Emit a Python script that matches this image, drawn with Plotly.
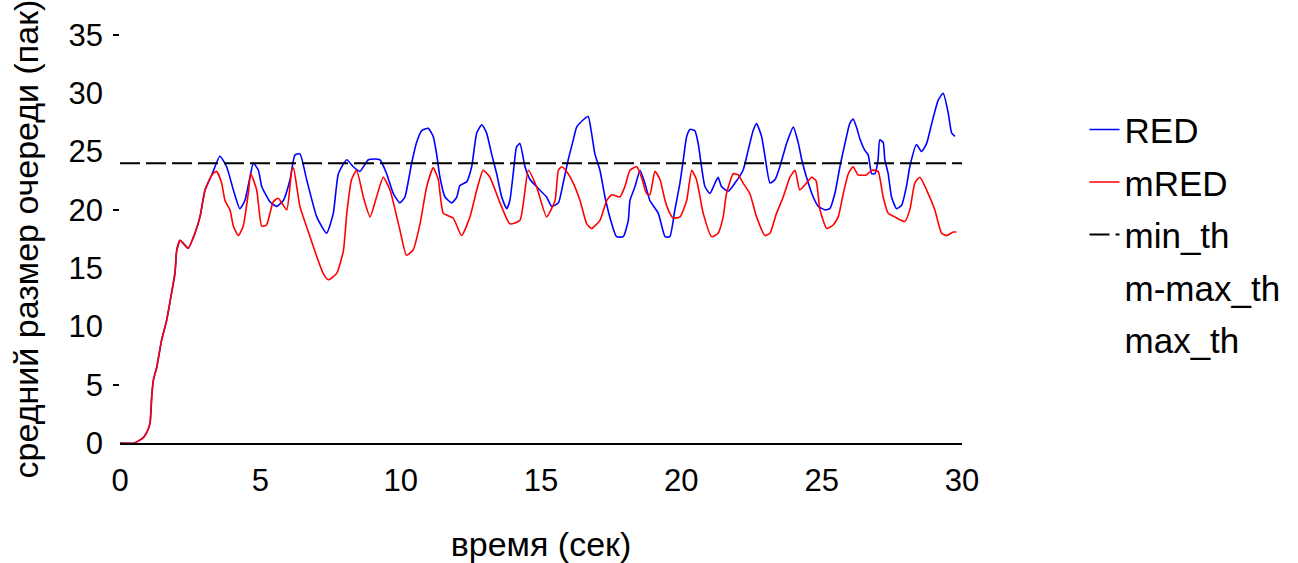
import plotly.graph_objects as go

# mRED (red curve)
t_mred = [0.0, 0.5, 0.8, 0.95, 1.07, 1.13, 1.19, 1.31, 1.48, 1.66, 1.84, 1.96, 2.02, 2.14, 2.3, 2.43,
          2.67, 2.85, 3.03, 3.27, 3.44, 3.62, 3.74, 3.92, 4.04, 4.22, 4.39, 4.57, 4.66, 4.87, 5.05,
          5.22, 5.46, 5.64, 5.94, 6.12, 6.18, 6.41, 6.77, 7.01, 7.24, 7.42, 7.72, 7.96, 8.08, 8.25,
          8.43, 8.67, 8.91, 9.14, 9.38, 9.62, 9.97, 10.21, 10.45, 10.69, 10.93, 11.16, 11.34, 11.52,
          11.87, 12.17, 12.47, 12.71, 12.94, 13.18, 13.54, 13.89, 14.25, 14.55, 14.84, 15.2, 15.5,
          15.62, 15.74, 15.91, 16.15, 16.39, 16.63, 16.8, 17.1, 17.34, 17.52, 17.81, 17.99, 18.17,
          18.41, 18.58, 18.76, 18.88, 19.06, 19.24, 19.42, 19.59, 19.71, 19.95, 20.19, 20.37, 20.54,
          20.78, 21.08, 21.31, 21.49, 21.61, 21.85, 22.03, 22.2, 22.44, 22.68, 22.98, 23.16, 23.39,
          23.63, 23.87, 24.05, 24.22, 24.46, 24.64, 24.8, 24.94, 25.18, 25.41, 25.59, 25.77, 25.95,
          26.12, 26.3, 26.6, 26.78, 27.01, 27.19, 27.37, 27.6, 27.96, 28.14, 28.32, 28.5, 28.74,
          29.03, 29.27, 29.45, 29.69, 29.8]
v_mred = [0.0, 0.0, 0.4, 0.9, 1.7, 4.0, 5.4, 6.5, 8.8, 10.5, 12.9, 14.6, 16.5, 17.4, 17.0, 16.7,
          18.0, 19.4, 21.7, 23.0, 23.3, 22.3, 20.8, 20.0, 18.6, 17.8, 18.6, 21.4, 23.1, 21.7, 18.6,
          18.7, 20.7, 21.0, 20.0, 23.4, 23.6, 20.3, 17.7, 16.0, 14.55, 14.0, 14.55, 16.5, 19.7, 22.6,
          23.4, 21.1, 19.4, 21.1, 22.8, 21.7, 18.3, 16.1, 16.6, 18.8, 22.0, 23.6, 22.6, 19.7,
          19.3, 17.8, 19.4, 21.7, 23.4, 22.8, 20.6, 18.8, 19.1, 23.4, 22.0, 19.4, 20.8,
          23.4, 23.7, 23.3, 22.3, 20.8, 18.8, 18.4, 19.1, 20.8, 21.3, 21.1, 22.0, 23.4,
          23.7, 22.8, 21.4, 21.3, 23.3, 22.6, 20.8, 19.7, 19.3, 19.4, 20.8, 23.4, 22.6,
          19.7, 17.7, 18.0, 19.4, 21.4, 23.1, 23.0, 22.3, 21.4, 19.4, 17.8, 18.0, 19.7,
          21.1, 22.8, 23.4, 21.7, 22.3, 22.8, 22.5, 20.0, 18.4, 18.7, 19.4, 21.4, 23.1,
          23.7, 23.0, 23.0, 23.4, 23.3, 21.1, 19.7, 19.4, 19.0, 20.0, 22.3, 22.8, 21.7,
          20.0, 18.0, 17.8, 18.1, 18.1]

# RED (blue curve)
t_red = [0.0, 0.5, 0.8, 0.95, 1.07, 1.13, 1.19, 1.31, 1.48, 1.66, 1.84, 1.96, 2.02, 2.14, 2.3, 2.43,
         2.67, 2.85, 3.03, 3.27, 3.56, 3.8, 4.04, 4.27, 4.45, 4.63, 4.75, 4.93, 5.05, 5.34, 5.58,
         5.82, 6.06, 6.23, 6.41, 6.65, 7.01, 7.36, 7.6, 7.78, 8.08, 8.31, 8.55, 8.85, 9.26, 9.5,
         9.74, 9.97, 10.15, 10.39, 10.57, 10.75, 10.98, 11.16, 11.28, 11.4, 11.58, 11.82, 12.0,
         12.11, 12.35, 12.53, 12.71, 12.89, 13.06, 13.24, 13.42, 13.6, 13.78, 13.89, 14.01, 14.13,
         14.25, 14.43, 14.61, 14.96, 15.2, 15.38, 15.62, 15.79, 15.97, 16.15, 16.27, 16.45, 16.68,
         16.8, 16.92, 17.1, 17.28, 17.52, 17.69, 17.93, 18.11, 18.17, 18.35, 18.53, 18.7, 18.88,
         19.18, 19.42, 19.59, 19.77, 19.95, 20.07, 20.19, 20.31, 20.48, 20.6, 20.72, 20.84, 21.02,
         21.2, 21.31, 21.43, 21.67, 21.91, 22.2, 22.38, 22.56, 22.68, 22.86, 22.98, 23.16, 23.34,
         23.51, 23.75, 23.99, 24.17, 24.29, 24.46, 24.7, 24.88, 25.12, 25.29, 25.47, 25.65, 25.83,
         26.0, 26.12, 26.24, 26.36, 26.54, 26.66, 26.78, 26.9, 27.01, 27.07, 27.19, 27.25, 27.37,
         27.49, 27.67, 27.85, 28.02, 28.14, 28.38, 28.56, 28.74, 28.92, 29.15, 29.33, 29.51, 29.63,
         29.75]
v_red = [0.0, 0.0, 0.4, 0.9, 1.7, 4.0, 5.4, 6.5, 8.8, 10.5, 12.9, 14.6, 16.5, 17.4, 17.0, 16.7,
         18.0, 19.4, 21.7, 23.0, 24.6, 23.7, 21.7, 20.1, 20.8, 22.8, 24.0, 23.4, 22.0, 20.7, 20.3,
         20.8, 22.6, 24.7, 24.8, 22.6, 19.4, 18.0, 19.7, 23.1, 24.3, 23.7, 23.3, 24.3, 24.3, 23.1,
         21.4, 20.6, 21.1, 24.0, 25.8, 26.8, 27.0, 26.3, 24.8, 22.8, 21.1, 20.6, 21.1,
         22.1, 22.4, 23.7, 26.6, 27.3, 26.6, 24.8, 23.1, 21.1, 20.1, 20.8, 23.1, 25.4,
         25.7, 23.7, 22.6, 21.7, 21.1, 20.3, 20.6, 22.3, 24.3, 26.0, 27.1, 27.6, 28.0,
         26.6, 24.8, 23.4, 21.1, 18.8, 17.7, 17.7, 19.1, 20.8, 22.0, 23.4, 22.3, 20.8,
         19.7, 17.7, 17.7, 20.0, 22.3, 24.3, 26.3, 26.9, 26.8, 25.7, 23.7, 22.0, 21.4,
         22.3, 22.8, 22.0, 21.6, 22.3, 23.4, 25.1, 26.8, 27.4, 26.3, 24.6, 22.3, 22.6,
         23.7, 25.7, 27.1, 25.7, 24.3, 22.8, 21.1, 20.3, 20.0, 20.1, 21.4, 23.7, 25.7,
         27.4, 27.8, 27.1, 26.1, 25.1, 24.7, 23.1, 23.1, 24.3, 26.0, 25.8, 24.3, 23.1,
         21.1, 20.1, 20.4, 22.0, 23.7, 25.6, 25.0, 25.7, 27.4, 29.4, 30.0, 28.3, 26.6,
         26.3]

# thresholds
t_th = [0.0, 30.0]
min_th = [24.0, 24.0]

x_ticks = [0, 5, 10, 15, 20, 25, 30]
y_ticks = [0, 5, 10, 15, 20, 25, 30, 35]
y_marks = [5, 20, 35]

FONT = "Liberation Sans, Arial, sans-serif"

fig = go.Figure()
fig.add_trace(go.Scatter(x=t_red, y=v_red, mode="lines", name="RED",
                         line=dict(color="#0000ff", width=1.6, shape="spline", smoothing=0.5),
                         legendrank=1, legendgroup="a"))
fig.add_trace(go.Scatter(x=t_mred, y=v_mred, mode="lines", name="mRED",
                         line=dict(color="#ff0000", width=1.6, shape="spline", smoothing=0.5),
                         legendrank=2, legendgroup="b"))
fig.add_trace(go.Scatter(x=t_th, y=min_th, mode="lines", name="min_th",
                         line=dict(color="#000000", width=2, dash="20px,6px"),
                         legendrank=3, legendgroup="c"))
fig.add_trace(go.Scatter(x=[None], y=[None], mode="lines", name="m-max_th",
                         line=dict(color="rgba(0,0,0,0)", width=0),
                         legendrank=4, legendgroup="d"))
fig.add_trace(go.Scatter(x=[None], y=[None], mode="lines", name="max_th",
                         line=dict(color="rgba(0,0,0,0)", width=0),
                         legendrank=5, legendgroup="e"))
# overlay axis for the sparse tick marks
fig.add_trace(go.Scatter(x=[None], y=[None], yaxis="y2", showlegend=False, hoverinfo="skip"))

fig.update_layout(
    width=1298, height=563,
    margin=dict(l=120, r=336, t=35, b=120),
    paper_bgcolor="white", plot_bgcolor="white",
    font=dict(family=FONT, color="#000000"),
    xaxis=dict(range=[0, 30], tickvals=x_ticks, showgrid=False, zeroline=False,
               showline=True, linecolor="#000000", linewidth=2, ticks="",
               ticklabelstandoff=9, tickfont=dict(size=31), automargin=False,
               title=dict(text="время (сек)", font=dict(size=34), standoff=39)),
    yaxis=dict(range=[0, 35], tickvals=y_ticks, showgrid=False, zeroline=False,
               showline=False, ticks="", ticklabelstandoff=16, tickfont=dict(size=31),
               automargin=False,
               title=dict(text="средний размер очереди (пак)", font=dict(size=34), standoff=19)),
    yaxis2=dict(range=[0, 35], overlaying="y", side="left", tickvals=y_marks,
                ticks="outside", ticklen=6, tickwidth=2, tickcolor="#000000",
                showticklabels=False, showgrid=False, zeroline=False, showline=False),
    legend=dict(x=1.1455, xanchor="left", y=0.84, yanchor="top",
                font=dict(size=35), tracegroupgap=4, bgcolor="rgba(0,0,0,0)"),
    showlegend=True,
)

fig.write_html("out.html")
